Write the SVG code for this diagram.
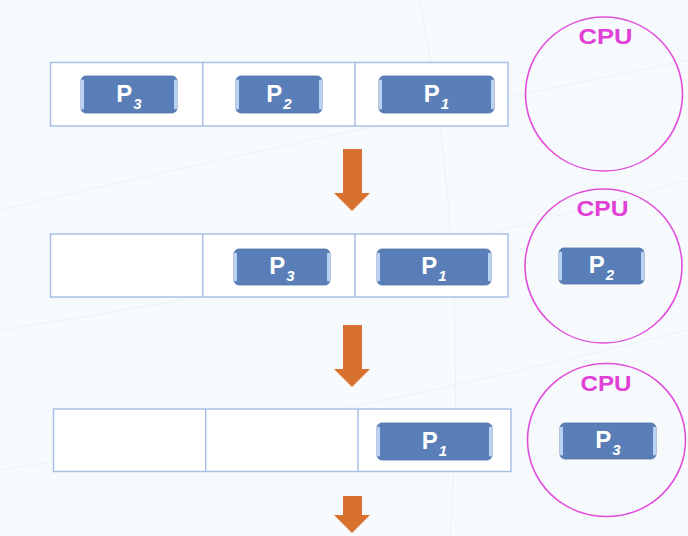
<svg xmlns="http://www.w3.org/2000/svg" width="688" height="536" viewBox="0 0 688 536">
<style>
.row{fill:#ffffff;stroke:#a9c1e6;stroke-width:1.5}
.div{stroke:#a9c1e6;stroke-width:1.5}
.pbox{fill:#5a7fb8;stroke:#4f72a8;stroke-width:0.8}
.hl{stroke:#b9d3f3;stroke-width:3;stroke-linecap:round}
.pt{font-family:"Liberation Sans",Arial,sans-serif;font-weight:bold;font-size:24px;fill:#ffffff;text-anchor:middle}
.sub{font-style:italic;font-size:15px}
.cpu{fill:none;stroke:#e24ddc;stroke-width:1.6}
.cput{font-family:"Liberation Sans",Arial,sans-serif;font-weight:bold;font-size:22px;fill:#e040d6;text-anchor:middle}
.arrow{fill:#d8712f}
</style>
<rect x="0" y="0" width="688" height="536" fill="#f6fafc"/>
<g opacity="0.35" stroke="#d5e6ea" stroke-width="1" fill="none">
<path d="M0 210 Q300 140 688 60"/>
<path d="M0 330 Q340 280 688 180"/>
<path d="M420 0 Q470 260 450 536"/>
<path d="M0 470 Q330 420 688 330"/>
</g>

<g id="queue1">
<rect class="row" x="50.5" y="62.5" width="457.5" height="63.5"/>
<line class="div" x1="202.7" y1="62.5" x2="202.7" y2="126"/>
<line class="div" x1="355" y1="62.5" x2="355" y2="126"/>
</g>
<g id="q1-p3">
<rect class="pbox" x="81" y="76" width="96" height="37" rx="5"/>
<line class="hl" x1="82.5" y1="81" x2="82.5" y2="108"/><line class="hl" x1="175.5" y1="81" x2="175.5" y2="108"/>
<text class="pt" x="129" y="102">P<tspan class="sub" dx="1" dy="7">3</tspan></text>
</g>
<g id="q1-p2">
<rect class="pbox" x="236" y="76" width="86" height="37" rx="5"/>
<line class="hl" x1="237.5" y1="81" x2="237.5" y2="108"/><line class="hl" x1="320.5" y1="81" x2="320.5" y2="108"/>
<text class="pt" x="279" y="102">P<tspan class="sub" dx="1" dy="7">2</tspan></text>
</g>
<g id="q1-p1">
<rect class="pbox" x="379" y="76" width="115" height="37" rx="5"/>
<line class="hl" x1="380.5" y1="81" x2="380.5" y2="108"/><line class="hl" x1="492.5" y1="81" x2="492.5" y2="108"/>
<text class="pt" x="436.5" y="102">P<tspan class="sub" dx="1" dy="7">1</tspan></text>
</g>
<g id="cpu1">
<ellipse class="cpu" cx="604" cy="94" rx="78.5" ry="77"/>
<text class="cput" x="605.5" y="43.5" textLength="54" lengthAdjust="spacingAndGlyphs">CPU</text>
</g>

<g id="queue2">
<rect class="row" x="50.5" y="234" width="457.5" height="63"/>
<line class="div" x1="202.7" y1="234" x2="202.7" y2="297"/>
<line class="div" x1="355" y1="234" x2="355" y2="297"/>
</g>
<g id="q2-p3">
<rect class="pbox" x="234" y="249" width="96" height="36" rx="5"/>
<line class="hl" x1="235.5" y1="254" x2="235.5" y2="280"/><line class="hl" x1="328.5" y1="254" x2="328.5" y2="280"/>
<text class="pt" x="282" y="274">P<tspan class="sub" dx="1" dy="7">3</tspan></text>
</g>
<g id="q2-p1">
<rect class="pbox" x="377" y="249" width="114" height="36" rx="5"/>
<line class="hl" x1="378.5" y1="254" x2="378.5" y2="280"/><line class="hl" x1="489.5" y1="254" x2="489.5" y2="280"/>
<text class="pt" x="434" y="274">P<tspan class="sub" dx="1" dy="7">1</tspan></text>
</g>
<g id="cpu2">
<ellipse class="cpu" cx="603.5" cy="266" rx="78.5" ry="77"/>
<text class="cput" x="602.5" y="216" textLength="52" lengthAdjust="spacingAndGlyphs">CPU</text>
<g id="cpu2-p2">
<rect class="pbox" x="559" y="248" width="85" height="36" rx="5"/>
<line class="hl" x1="560.5" y1="253" x2="560.5" y2="279"/><line class="hl" x1="642.5" y1="253" x2="642.5" y2="279"/>
<text class="pt" x="601.5" y="273">P<tspan class="sub" dx="1" dy="7">2</tspan></text>
</g>
</g>

<g id="queue3">
<rect class="row" x="53.5" y="409" width="457.5" height="62.5"/>
<line class="div" x1="205.7" y1="409" x2="205.7" y2="471.5"/>
<line class="div" x1="358" y1="409" x2="358" y2="471.5"/>
</g>
<g id="q3-p1">
<rect class="pbox" x="377" y="423" width="115" height="37" rx="5"/>
<line class="hl" x1="378.5" y1="428" x2="378.5" y2="455"/><line class="hl" x1="490.5" y1="428" x2="490.5" y2="455"/>
<text class="pt" x="434.5" y="449">P<tspan class="sub" dx="1" dy="7">1</tspan></text>
</g>
<g id="cpu3">
<ellipse class="cpu" cx="606.5" cy="440" rx="79" ry="76.5"/>
<text class="cput" x="606" y="391" textLength="51" lengthAdjust="spacingAndGlyphs">CPU</text>
<g id="cpu3-p3">
<rect class="pbox" x="560" y="423" width="96" height="36" rx="5"/>
<line class="hl" x1="561.5" y1="428" x2="561.5" y2="454"/><line class="hl" x1="654.5" y1="428" x2="654.5" y2="454"/>
<text class="pt" x="608" y="448">P<tspan class="sub" dx="1" dy="7">3</tspan></text>
</g>
</g>

<g id="connectors">
<path class="arrow" d="M343 149 H362 V193 H370 L352 211 L334 193 H343 Z"/>
<path class="arrow" d="M343 325 H362 V369 H370 L352 387 L334 369 H343 Z"/>
<path class="arrow" d="M343 496 H362 V515 H370 L352 533 L334 515 H343 Z"/>
</g>
</svg>
